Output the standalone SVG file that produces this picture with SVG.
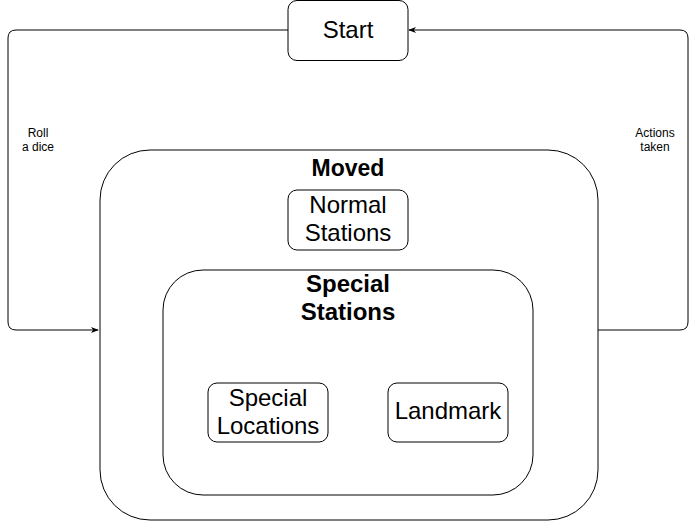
<svg xmlns="http://www.w3.org/2000/svg" width="696" height="522" viewBox="0 0 696 522">
<style>
.box{fill:#fff;stroke:#000;stroke-width:1}
.t{font-family:"Liberation Sans",Arial,sans-serif;font-size:24px;text-anchor:middle;fill:#000}
.b{font-weight:bold}
.lbl{font-family:"Liberation Sans",Arial,sans-serif;font-size:12px;text-anchor:middle;fill:#000}
.c{fill:none;stroke:#000;stroke-width:1}
</style>
<defs>
<marker id="arr" viewBox="0 0 10 10" refX="9" refY="5" markerWidth="8" markerHeight="8" orient="auto" markerUnits="userSpaceOnUse">
<path d="M0,1 L10,5 L0,9 L3,5 Z" fill="#000"/>
</marker>
</defs>
<g id="connectors">
<path class="c" d="M288,30 H16 Q8,30 8,38 V322 Q8,330 16,330 H98" marker-end="url(#arr)"/>
<path class="c" d="M598,330 H680 Q688,330 688,322 V38 Q688,30 680,30 H409" marker-end="url(#arr)"/>
<text class="lbl" x="38" y="137">Roll</text>
<text class="lbl" x="38" y="151">a dice</text>
<text class="lbl" x="655" y="137">Actions</text>
<text class="lbl" x="655" y="151">taken</text>
</g>
<g id="start">
<rect class="box" x="288" y="0.5" width="120" height="60" rx="9"/>
<text class="t" x="348" y="37.5">Start</text>
</g>
<g id="moved">
<rect class="box" x="100" y="150" width="498" height="370" rx="50"/>
<text class="t b" x="348" y="175.5" style="font-size:23px">Moved</text>
</g>
<g id="normal">
<rect class="box" x="288" y="190" width="120" height="60" rx="9"/>
<text class="t" x="348" y="212.5">Normal</text>
<text class="t" x="348" y="240.5">Stations</text>
</g>
<g id="special">
<rect class="box" x="163" y="270" width="370" height="225" rx="40"/>
<text class="t b" x="348" y="291.5">Special</text>
<text class="t b" x="348" y="319.5">Stations</text>
</g>
<g id="locations">
<rect class="box" x="208" y="383" width="120" height="59" rx="9"/>
<text class="t" x="268" y="405.5">Special</text>
<text class="t" x="268" y="433.5">Locations</text>
</g>
<g id="landmark">
<rect class="box" x="388" y="383" width="120" height="59" rx="9"/>
<text class="t" x="448" y="418.5">Landmark</text>
</g>
</svg>
